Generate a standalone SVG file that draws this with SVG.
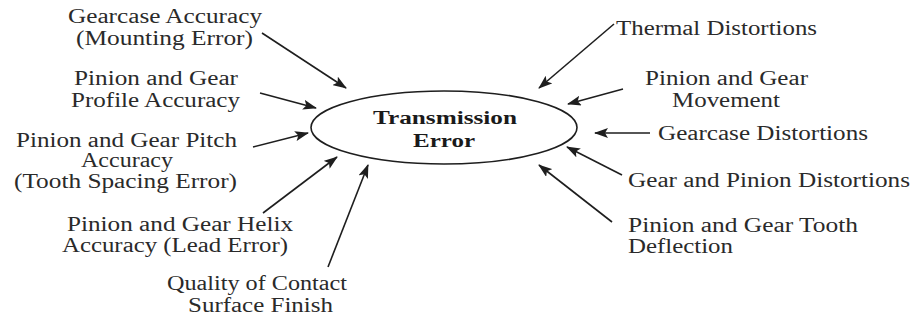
<svg xmlns="http://www.w3.org/2000/svg" width="914" height="320" viewBox="0 0 914 320">
<style>
.t{font-family:"Liberation Serif","Times New Roman",serif;font-size:20px;fill:#2a2a2a}
.b{font-family:"Liberation Serif","Times New Roman",serif;font-size:18px;font-weight:bold;fill:#1a1a1a}
.c{stroke:#1e1e1e;stroke-width:1.6;fill:none;marker-end:url(#ah)}
</style>
<defs>
<marker id="ah" markerUnits="userSpaceOnUse" markerWidth="14" markerHeight="10" refX="13" refY="5" orient="auto">
<path d="M0,0 L14,5 L0,10 L3,5 Z" fill="#1e1e1e"/>
</marker>
</defs>
<rect width="914" height="320" fill="#fff"/>
<g id="center">
<ellipse cx="444" cy="127.5" rx="133" ry="36.5" fill="none" stroke="#1e1e1e" stroke-width="1.6"/>
<text class="b" x="373" y="124" textLength="144" lengthAdjust="spacingAndGlyphs">Transmission</text>
<text class="b" x="413" y="147" textLength="62" lengthAdjust="spacingAndGlyphs">Error</text>
</g>
<g id="n-gearcase-accuracy">
<text class="t" x="68" y="23" textLength="194" lengthAdjust="spacingAndGlyphs">Gearcase Accuracy</text>
<text class="t" x="76" y="45" textLength="177" lengthAdjust="spacingAndGlyphs">(Mounting Error)</text>
</g>
<g id="n-profile">
<text class="t" x="74" y="85" textLength="164" lengthAdjust="spacingAndGlyphs">Pinion and Gear</text>
<text class="t" x="71" y="107" textLength="169" lengthAdjust="spacingAndGlyphs">Profile Accuracy</text>
</g>
<g id="n-pitch">
<text class="t" x="16" y="147" textLength="221" lengthAdjust="spacingAndGlyphs">Pinion and Gear Pitch</text>
<text class="t" x="81" y="167" textLength="92" lengthAdjust="spacingAndGlyphs">Accuracy</text>
<text class="t" x="14" y="188" textLength="223" lengthAdjust="spacingAndGlyphs">(Tooth Spacing Error)</text>
</g>
<g id="n-helix">
<text class="t" x="67" y="231" textLength="226" lengthAdjust="spacingAndGlyphs">Pinion and Gear Helix</text>
<text class="t" x="62" y="252" textLength="226" lengthAdjust="spacingAndGlyphs">Accuracy (Lead Error)</text>
</g>
<g id="n-quality">
<text class="t" x="167" y="290" textLength="180" lengthAdjust="spacingAndGlyphs">Quality of Contact</text>
<text class="t" x="188" y="312" textLength="145" lengthAdjust="spacingAndGlyphs">Surface Finish</text>
</g>
<g id="n-thermal">
<text class="t" x="616" y="35" textLength="201" lengthAdjust="spacingAndGlyphs">Thermal Distortions</text>
</g>
<g id="n-movement">
<text class="t" x="645" y="85" textLength="163" lengthAdjust="spacingAndGlyphs">Pinion and Gear</text>
<text class="t" x="672" y="107" textLength="108" lengthAdjust="spacingAndGlyphs">Movement</text>
</g>
<g id="n-gearcase-distortions">
<text class="t" x="658" y="140" textLength="210" lengthAdjust="spacingAndGlyphs">Gearcase Distortions</text>
</g>
<g id="n-gear-pinion-distortions">
<text class="t" x="628" y="187" textLength="282" lengthAdjust="spacingAndGlyphs">Gear and Pinion Distortions</text>
</g>
<g id="n-tooth">
<text class="t" x="628" y="232" textLength="230" lengthAdjust="spacingAndGlyphs">Pinion and Gear Tooth</text>
<text class="t" x="628" y="253" textLength="105" lengthAdjust="spacingAndGlyphs">Deflection</text>
</g>
<g id="connectors">
<line class="c" x1="262" y1="33" x2="346" y2="88"/>
<line class="c" x1="260" y1="93" x2="316" y2="108"/>
<line class="c" x1="253" y1="147" x2="308" y2="133"/>
<line class="c" x1="263" y1="213" x2="337" y2="157"/>
<line class="c" x1="328" y1="267" x2="368" y2="165"/>
<line class="c" x1="614" y1="24" x2="539" y2="88"/>
<line class="c" x1="623" y1="89" x2="568" y2="104"/>
<line class="c" x1="650" y1="133" x2="595" y2="133"/>
<line class="c" x1="622" y1="175" x2="567" y2="147"/>
<line class="c" x1="612" y1="222" x2="539" y2="165"/>
</g>
</svg>
